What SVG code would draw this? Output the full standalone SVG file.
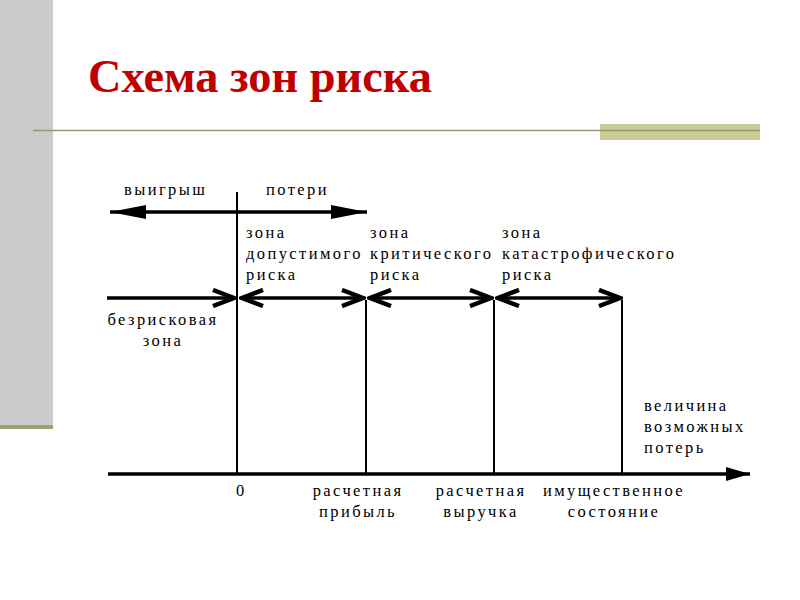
<svg xmlns="http://www.w3.org/2000/svg" width="800" height="600" viewBox="0 0 800 600">
<defs>
<style>
.t{font-family:'Liberation Serif','Times New Roman',serif;font-size:16.5px;letter-spacing:2.4px;fill:#000}
.c{text-anchor:middle}
.ln{stroke:#000;stroke-width:2;fill:none}
.ar{stroke:#000;stroke-width:3.5;fill:none}
</style>
<marker id="filledEnd" markerUnits="userSpaceOnUse" viewBox="0 0 36 14" refX="36" refY="7" markerWidth="36" markerHeight="14" orient="auto">
<path d="M0,0 L36,7 L0,14 Z" fill="#000"/>
</marker>
<marker id="filledStart" markerUnits="userSpaceOnUse" viewBox="0 0 36 14" refX="0" refY="7" markerWidth="36" markerHeight="14" orient="auto">
<path d="M36,0 L0,7 L36,14 Z" fill="#000"/>
</marker>
<marker id="axisEnd" markerUnits="userSpaceOnUse" viewBox="0 0 24 14" refX="24" refY="7" markerWidth="24" markerHeight="14" orient="auto">
<path d="M0,0 L24,7 L0,14 Z" fill="#000"/>
</marker>
<marker id="openEnd" markerUnits="userSpaceOnUse" viewBox="0 0 30 20" refX="28" refY="10" markerWidth="30" markerHeight="20" orient="auto">
<path d="M6,2 L27,10 L6,18" fill="none" stroke="#000" stroke-width="4.5"/>
</marker>
<marker id="openStart" markerUnits="userSpaceOnUse" viewBox="0 0 30 20" refX="2" refY="10" markerWidth="30" markerHeight="20" orient="auto">
<path d="M24,2 L3,10 L24,18" fill="none" stroke="#000" stroke-width="4.5"/>
</marker>
</defs>
<rect width="800" height="600" fill="#fff"/>
<g id="decor">
<rect x="0" y="0" width="53" height="425" fill="#cbcbcb"/>
<rect x="0" y="425" width="53" height="4" fill="#a0a078"/>
<rect x="600" y="124" width="160" height="16" fill="#cccc99"/>
<line x1="33" y1="130.5" x2="760" y2="130.5" stroke="#999966" stroke-width="1.5"/>
<text x="88" y="92" textLength="344" lengthAdjust="spacingAndGlyphs" style="font-family:'Liberation Serif','Times New Roman',serif;font-size:47px;font-weight:bold;fill:#c00000">Схема зон риска</text>
</g>
<g id="connectors">
<line class="ln" x1="237" y1="192" x2="237" y2="474"/>
<line class="ln" x1="366" y1="300" x2="366" y2="474"/>
<line class="ln" x1="494" y1="300" x2="494" y2="474"/>
<line class="ln" x1="622" y1="300" x2="622" y2="474"/>
<line class="ar" x1="110" y1="212" x2="367" y2="212" marker-start="url(#filledStart)" marker-end="url(#filledEnd)"/>
<line class="ar" x1="107" y1="298" x2="235" y2="298" marker-end="url(#openEnd)"/>
<line class="ar" x1="241" y1="298" x2="364" y2="298" marker-start="url(#openStart)" marker-end="url(#openEnd)"/>
<line class="ar" x1="369" y1="298" x2="492" y2="298" marker-start="url(#openStart)" marker-end="url(#openEnd)"/>
<line class="ar" x1="497" y1="298" x2="621" y2="298" marker-start="url(#openStart)" marker-end="url(#openEnd)"/>
<line class="ar" x1="108" y1="474" x2="750" y2="474" stroke-width="3" marker-end="url(#axisEnd)"/>
</g>
<g id="n-win"><text class="t" x="124" y="195">выигрыш</text></g>
<g id="n-loss"><text class="t" x="266" y="195">потери</text></g>
<g id="n-zone1"><text class="t" x="246" y="238">зона</text><text class="t" x="246" y="259">допустимого</text><text class="t" x="246" y="280">риска</text></g>
<g id="n-zone2"><text class="t" x="370" y="238">зона</text><text class="t" x="370" y="259">критического</text><text class="t" x="370" y="280">риска</text></g>
<g id="n-zone3"><text class="t" x="502" y="238">зона</text><text class="t" x="502" y="259">катастрофического</text><text class="t" x="502" y="280">риска</text></g>
<g id="n-safe"><text class="t c" x="163" y="325">безрисковая</text><text class="t c" x="163" y="346">зона</text></g>
<g id="n-axis"><text class="t" x="644" y="411">величина</text><text class="t" x="644" y="432">возможных</text><text class="t" x="644" y="453">потерь</text></g>
<g id="n-zero"><text class="t" x="236" y="496">0</text></g>
<g id="n-profit"><text class="t c" x="358" y="496">расчетная</text><text class="t c" x="358" y="517">прибыль</text></g>
<g id="n-revenue"><text class="t c" x="481" y="496">расчетная</text><text class="t c" x="481" y="517">выручка</text></g>
<g id="n-property"><text class="t c" x="614" y="496">имущественное</text><text class="t c" x="614" y="517">состояние</text></g>
</svg>
